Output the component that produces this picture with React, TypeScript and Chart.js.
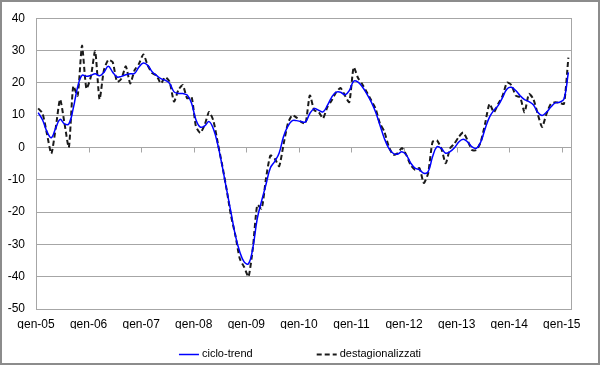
import { useEffect, useRef } from 'react';
import { Chart, registerables } from 'chart.js';

Chart.register(...registerables);

const tickLabels = ['gen-05', 'gen-06', 'gen-07', 'gen-08', 'gen-09', 'gen-10', 'gen-11', 'gen-12', 'gen-13', 'gen-14', 'gen-15'];
const seriesNames = ['ciclo-trend', 'destagionalizzati'];

// monthly values, gen-05 .. feb-15
const cicloTrend = [
  10.8, 8.5, 4.9, 3.0, 6.0, 8.7, 7.3, 7.3, 12.1, 18.7,
  22.3, 22.0, 22.3, 22.8, 22.2, 23.3, 25.1, 23.3, 21.8, 22.0,
  22.5, 22.8, 22.9, 24.9, 26.1, 25.4, 23.4, 22.3, 21.3, 20.8,
  19.8, 17.2, 16.7, 16.7, 16.2, 13.7, 8.6, 6.3, 6.7, 8.0,
  5.7, 0.8, -5.8, -13.0, -20.1, -27.2, -32.3, -35.4, -36.0, -31.0,
  -22.0, -16.5, -11.4, -6.3, -4.3, -1.7, 3.4, 6.6, 8.3, 8.3,
  8.0, 7.9, 10.5, 12.0, 11.5, 11.0, 13.0, 15.6, 17.1, 17.1,
  16.3, 17.6, 20.5, 20.2, 18.7, 16.6, 14.1, 11.0, 6.9, 2.8,
  -0.2, -1.8, -2.1, -1.3, -2.3, -4.8, -6.4, -6.9, -8.0, -7.5,
  -2.9, 0.2, -0.3, -1.8, -1.3, -0.1, 1.7, 2.5, 1.7, 0.2,
  -0.3, 1.7, 5.8, 9.4, 11.5, 13.0, 15.5, 18.1, 18.6, 17.6,
  16.0, 14.8, 14.2, 13.2, 10.9, 9.9, 10.9, 12.5, 13.8, 14.0,
  15.0, 23.2,
];

const destagionalizzati = [
  12.1, 10.5, 4.2, -1.9, 6.0, 14.9, 7.5, 0.0, 19.0, 16.0,
  31.5, 18.2, 21.8, 29.8, 14.9, 23.9, 27.1, 26.4, 20.3, 21.3,
  25.1, 19.8, 23.9, 25.9, 28.8, 25.4, 23.0, 22.3, 19.8, 21.8,
  20.3, 14.2, 17.8, 19.3, 15.2, 15.7, 6.5, 4.5, 7.0, 11.0,
  8.2, 1.3, -5.5, -13.0, -21.1, -27.2, -34.4, -37.0, -40.0, -31.0,
  -17.8, -19.0, -9.5, -2.5, -3.5, -5.8, 1.0, 7.5, 10.0, 9.2,
  7.9, 7.4, 16.1, 11.5, 11.0, 9.0, 12.5, 14.6, 17.1, 18.4,
  16.1, 14.0, 24.8, 21.5, 19.5, 17.1, 14.6, 12.0, 7.4, 4.9,
  0.3, -2.3, -1.8, -0.2, -2.3, -5.4, -6.9, -6.4, -11.0, -8.0,
  1.7, 2.2, -0.3, -4.9, -0.3, 1.2, 3.3, 4.6, 2.2, -0.8,
  -0.8, 1.7, 7.4, 13.5, 10.9, 13.5, 16.0, 20.1, 19.3, 16.0,
  15.5, 10.9, 16.6, 15.0, 10.4, 6.3, 10.4, 13.5, 14.0, 13.8,
  13.5, 27.8,
];

const FONT = '"Liberation Sans", Arial, sans-serif';

export default function App() {
  const ref = useRef<HTMLCanvasElement>(null);

  useEffect(() => {
    document.body.style.margin = '0';
    const toPts = (arr: number[]) => arr.map((v, i) => ({ x: i + 0.5, y: v }));

    const frame = {
      id: 'frame',
      beforeDatasetsDraw(chart: any) {
        const { ctx, scales } = chart;
        const xs = scales.x;
        const ys = scales.y;
        const y0 = Math.round(ys.getPixelForValue(0)) + 0.5;
        ctx.save();
        ctx.strokeStyle = '#a6a6a6';
        ctx.lineWidth = 1;
        ctx.beginPath();
        tickLabels.forEach((_, k) => {
          const x = Math.round(xs.getPixelForValue(k * 12)) + 0.5;
          ctx.moveTo(x, y0);
          ctx.lineTo(x, y0 + 5);
        });
        ctx.stroke();
        ctx.restore();
      },
      afterDraw(chart: any) {
        const { ctx, chartArea: a, width, height } = chart;
        ctx.save();
        // plot frame
        ctx.strokeStyle = '#a6a6a6';
        ctx.lineWidth = 1;
        ctx.strokeRect(Math.round(a.left) + 0.5, Math.round(a.top) + 0.5, Math.round(a.right - a.left), Math.round(a.bottom - a.top));
        // legend
        ctx.font = '11px ' + FONT;
        ctx.textBaseline = 'middle';
        const sample = 20;
        const gap = 3;
        const itemGap = 64;
        const widths = chart.data.datasets.map((d: any) => sample + gap + ctx.measureText(d.label).width);
        const total = widths.reduce((s: number, w: number) => s + w, 0) + itemGap * (widths.length - 1);
        let x = width / 2 - total / 2;
        const ly = 354;
        chart.data.datasets.forEach((d: any, i: number) => {
          ctx.strokeStyle = d.borderColor;
          ctx.lineWidth = d.borderWidth;
          ctx.setLineDash(d.borderDash || []);
          ctx.beginPath();
          ctx.moveTo(x, ly + 0.5);
          ctx.lineTo(x + sample, ly + 0.5);
          ctx.stroke();
          ctx.setLineDash([]);
          ctx.fillStyle = '#000';
          ctx.fillText(d.label, x + sample + gap, ly);
          x += widths[i] + itemGap;
        });
        // outer border
        ctx.strokeStyle = '#8c8c8c';
        ctx.lineWidth = 2;
        ctx.strokeRect(1, 1, width - 2, height - 2);
        ctx.restore();
      },
    };

    const chart = new Chart(ref.current as HTMLCanvasElement, {
      type: 'line',
      data: {
        datasets: [
          {
            label: seriesNames[0],
            data: toPts(cicloTrend),
            borderColor: '#0000ff',
            borderWidth: 1.5,
            pointRadius: 0,
            tension: 0.4,
            fill: false,
          },
          {
            label: seriesNames[1],
            data: toPts(destagionalizzati),
            borderColor: '#1a1a1a',
            borderWidth: 2,
            borderDash: [5, 3],
            pointRadius: 0,
            tension: 0.2,
            fill: false,
          },
        ],
      },
      options: {
        animation: false,
        responsive: true,
        maintainAspectRatio: false,
        layout: { padding: { left: 0, right: 29, top: 15, bottom: 36 } },
        plugins: {
          legend: { display: false },
          tooltip: { enabled: false },
        },
        scales: {
          x: {
            type: 'linear',
            min: 0,
            max: 122.1,
            afterBuildTicks: (scale: any) => {
              scale.ticks = tickLabels.map((_, k) => ({ value: k * 12 }));
            },
            afterFit: (scale: any) => {
              scale.height = 20;
            },
            grid: { display: false, drawTicks: false },
            border: { display: true, color: '#a6a6a6' },
            ticks: {
              autoSkip: false,
              maxRotation: 0,
              padding: 8,
              color: '#000',
              font: { family: FONT, size: 12 },
              callback: (v: any) => tickLabels[Math.round(Number(v) / 12)] ?? '',
            },
          },
          y: {
            min: -50,
            max: 40,
            afterFit: (scale: any) => {
              scale.width = 36;
            },
            grid: { color: '#a6a6a6', lineWidth: 1, drawTicks: false },
            border: { display: true, color: '#a6a6a6' },
            ticks: {
              stepSize: 10,
              padding: 11,
              color: '#000',
              font: { family: FONT, size: 12 },
            },
          },
        },
      },
      plugins: [frame],
    });
    return () => chart.destroy();
  }, []);

  return (
    <div style={{ width: 600, height: 365, position: 'relative' }}>
      <canvas ref={ref} style={{ display: 'block' }} />
    </div>
  );
}
